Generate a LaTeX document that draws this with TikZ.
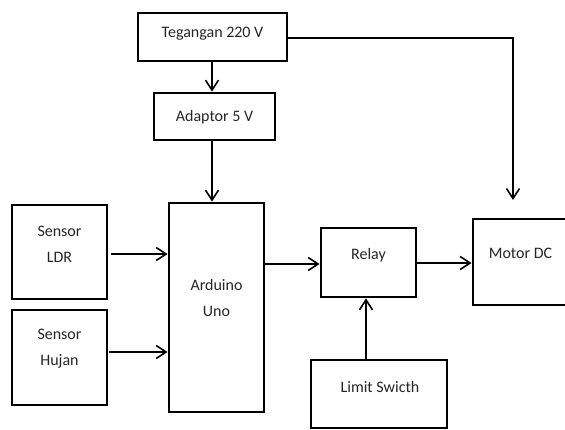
\documentclass[tikz,border=0pt]{standalone}
\usepackage{fontspec}
\setmainfont{Carlito}
\usetikzlibrary{arrows.meta}
\begin{document}
\begin{tikzpicture}[x=1pt,y=-1pt,
  box/.style={draw=black,line width=2.8pt,fill=white,inner sep=0pt,minimum width=#1},
  lbl/.style={font=\fontsize{16}{26}\selectfont,text=black!85,align=center,inner sep=0pt},
  arr/.style={line width=1.8pt,-{Straight Barb[length=10pt,width=13pt,line width=1.6pt]}}]
\useasboundingbox (0,0) rectangle (565,430);
\clip (0,0) rectangle (565,430);
% boxes
\node[box=149pt,minimum height=48pt] (teg) at (212.5,37) {};
\node[box=121pt,minimum height=47pt] (adp) at (214.5,116.5) {};
\node[box=95pt,minimum height=94pt] (ldr) at (59.5,252) {};
\node[box=95pt,minimum height=95pt] (hjn) at (59.5,357.5) {};
\node[box=95pt,minimum height=209pt] (ard) at (216.5,307.5) {};
\node[box=95pt,minimum height=69pt] (rly) at (368.5,262.5) {};
\node[box=100pt,minimum height=86pt] (mot) at (523,262) {};
\node[box=136pt,minimum height=68pt] (lim) at (379,394) {};
% labels
\node[lbl] (tegT) at (212.5,34) {Tegangan 220 V};
\node[lbl] (adpT) at (214.5,117) {Adaptor 5 V};
\node[lbl] (ldrT) at (59.5,244) {Sensor\\LDR};
\node[lbl] (hjnT) at (59.5,349) {Sensor\\Hujan};
\node[lbl] (ardT) at (216.5,298) {Arduino\\Uno};
\node[lbl] (rlyT) at (368.5,255) {Relay};
\node[lbl] (motT) at (520.5,253) {Motor DC};
\node[lbl] (limT) at (380,387) {Limit Swicth};
% connectors
\coordinate (motin) at (513,200);
\coordinate (ldrout) at (111,254);
\coordinate (hjnout) at (109,352);
\draw[arr] (teg.south -| 212,0) -- (adp.north -| 212,0);
\draw[arr] (adp.south -| 212,0) -- (ard.north -| 212,0);
\draw[line width=1.8pt] (teg.east |- 0,38) -| (513,46);
\draw[arr] (513,38) -- (motin);
\draw[arr] (ldrout) -- (ldrout -| ard.west);
\draw[arr] (hjnout) -- (hjnout -| ard.west);
\draw[arr] (ard.east |- 0,264) -- (rly.west |- 0,264);
\draw[arr] (rly.east |- 0,263) -- (mot.west |- 0,263);
\draw[arr] (lim.north -| 366,0) -- (rly.south -| 366,0);
\end{tikzpicture}
\end{document}
